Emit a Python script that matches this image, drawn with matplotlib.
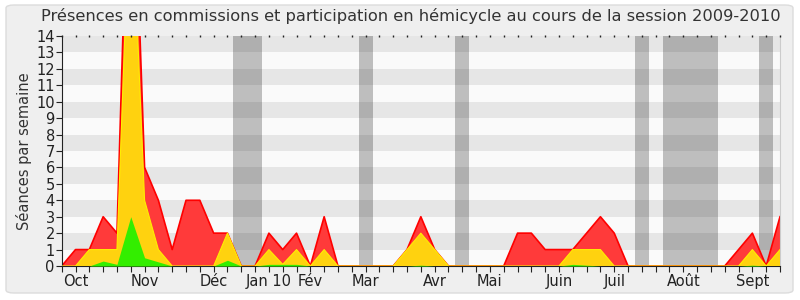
import numpy as np
import matplotlib.pyplot as plt
from matplotlib.patches import FancyBboxPatch

# weekly values, session 2009-2010 (week index 0..52)
presences = [0, 1, 1, 3, 2, 30, 6, 4, 1, 4, 4, 2, 2, 0, 0, 2, 1, 2, 0, 3,
             0, 0, 0, 0, 0, 1, 3, 1, 0, 0, 0, 0, 0, 2, 2, 1, 1, 1, 2, 3,
             2, 0, 0, 0, 0, 0, 0, 0, 0, 1, 2, 0, 3]
commissions = [0, 0, 1, 1, 1, 24, 4, 1, 0, 0, 0, 0, 2, 0, 0, 1, 0.1, 1, 0, 1,
               0, 0, 0, 0, 0, 1, 2, 1, 0, 0, 0, 0, 0, 0, 0, 0, 0, 1, 1, 1,
               0, 0, 0, 0, 0, 0, 0, 0, 0, 0, 1, 0, 1]
hemicycle = [0, 0, 0, 0.3, 0.1, 3, 0.5, 0.25, 0, 0, 0, 0, 0.35, 0, 0, 0.1, 0.1, 0.1, 0, 0,
             0, 0, 0, 0, 0, 0, 0.05, 0, 0, 0, 0, 0, 0, 0, 0, 0, 0, 0.1, 0.05, 0,
             0, 0, 0, 0, 0, 0, 0, 0, 0, 0, 0.05, 0, 0]

# holiday weeks (start, end) in week units
vacances = [(12.4, 14.5), (21.5, 22.5), (28.5, 29.5), (41.5, 42.5), (43.5, 47.5), (50.5, 51.5)]

mois = ["Oct", "Nov", "Déc", "Jan 10", "Fév", "Mar", "Avr", "Mai", "Juin", "Juil", "Août", "Sept"]
mois_pos = [1, 6, 11, 15, 18, 22, 27, 31, 36, 40, 45, 50]

ymax = 14


def main():
    fig = plt.figure(figsize=(8, 3), dpi=100, facecolor="white")
    fig.patches.append(FancyBboxPatch((6 / 800, 7 / 300), 787 / 800, 288 / 300,
                                      boxstyle="round,pad=0,rounding_size=0.01",
                                      transform=fig.transFigure, facecolor="#efefef",
                                      edgecolor="#dcdcdc", linewidth=1, zorder=-10))

    ax = fig.add_axes([61.7 / 800, 34 / 300, 718.3 / 800, 230 / 300])
    ax.set_facecolor("#fafafa")
    x = np.arange(len(presences))

    for k in range(1, ymax, 2):
        ax.axhspan(k, k + 1, color="#e6e6e6", zorder=0, linewidth=0)
    for a, b in vacances:
        ax.axvspan(a, b, color="black", alpha=0.24, zorder=1, linewidth=0)

    ax.fill_between(x, presences, color="#ff3a3a", zorder=2, linewidth=0)
    ax.plot(x, presences, color="#ff0000", linewidth=1.2, zorder=2.5)
    ax.fill_between(x, commissions, color="#ffd20f", zorder=3, linewidth=0)
    ax.plot(x, commissions, color="#ffee00", linewidth=0.8, zorder=3.5)
    ax.fill_between(x, hemicycle, color="#33ee00", zorder=4, linewidth=0)

    ax.set_xlim(0, len(presences) - 1)
    ax.set_ylim(0, ymax)

    ax.set_yticks(range(0, ymax + 1))
    ax.tick_params(axis="y", length=4, labelsize=10.5, pad=1, colors="#222222")
    ax.set_xticks(x)
    labels = [""] * len(x)
    for p, m in zip(mois_pos, mois):
        labels[p] = m
    ax.set_xticklabels(labels)
    ax.tick_params(axis="x", which="major", length=4, labelsize=10.5, pad=2, colors="#222222",
                   top=False)
    # tiny dots along the top edge
    ax.plot(x, [ymax] * len(x), linestyle="none", marker="|", markersize=2,
            color="#222222", clip_on=False, zorder=5)
    ax.set_ylabel("Séances par semaine", fontsize=10.5, color="#333333", labelpad=3)

    for s in ["left", "bottom"]:
        ax.spines[s].set_color("#222222")
    ax.spines["top"].set_visible(False)
    ax.spines["right"].set_color("#cccccc")

    fig.suptitle("Présences en commissions et participation en hémicycle au cours de la session 2009-2010",
                 x=0.514, y=0.972, fontsize=11.7, color="#333333")

    fig.savefig("out.png", dpi=100, facecolor=fig.get_facecolor())


if __name__ == '__main__':
    main()
